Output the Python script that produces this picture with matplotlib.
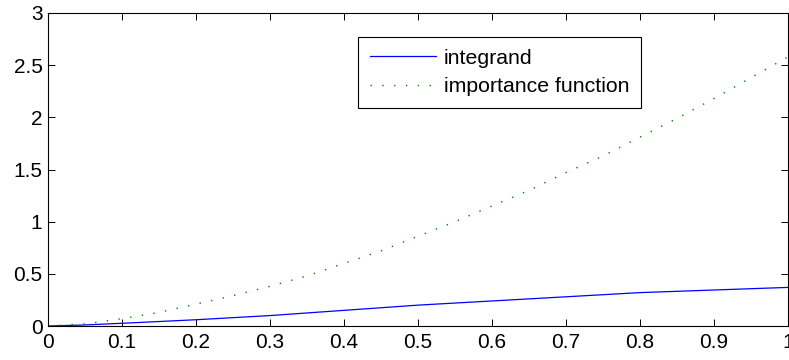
import matplotlib
matplotlib.use("Agg")
import matplotlib.pyplot as plt

# sampled curves
x_integrand = [0.0, 0.05, 0.1, 0.2, 0.3, 0.4, 0.5, 0.6, 0.7, 0.8, 0.9, 1.0]
integrand = [0.0, 0.01, 0.026, 0.06, 0.10, 0.15, 0.20, 0.24, 0.28, 0.32, 0.345, 0.37]

x_importance = [0.0, 0.05, 0.1, 0.15, 0.2, 0.25, 0.3, 0.35, 0.4, 0.45, 0.5,
                0.55, 0.6, 0.65, 0.7, 0.75, 0.8, 0.85, 0.9, 0.95, 1.0]
importance = [0.0, 0.02, 0.07, 0.13, 0.21, 0.29, 0.38, 0.48, 0.60, 0.72, 0.86,
              1.0, 1.15, 1.30, 1.47, 1.63, 1.81, 1.99, 2.18, 2.38, 2.58]

xticks = [0, 0.1, 0.2, 0.3, 0.4, 0.5, 0.6, 0.7, 0.8, 0.9, 1]
yticks = [0, 0.5, 1, 1.5, 2, 2.5, 3]

plt.rcParams["font.family"] = ["Liberation Sans", "DejaVu Sans"]

fig = plt.figure(figsize=(7.89, 3.6), dpi=100)
ax = fig.add_axes([48 / 789, 34 / 360, 740 / 789, 313 / 360])

ax.plot(x_integrand, integrand, color="#0000ff", linewidth=0.9, label="integrand")
ax.plot(x_importance, importance, color="#008000", linewidth=1.0,
        linestyle=(0, (1, 7.5)), label="importance function")

ax.set_xlim(0, 1)
ax.set_ylim(0, 3)
ax.set_xticks(xticks)
ax.set_xticklabels([f"{t:g}" for t in xticks])
ax.set_yticks(yticks)
ax.set_yticklabels([f"{t:g}" for t in yticks])

ax.tick_params(direction="in", length=5, width=0.7, labelsize=15,
               top=True, right=True, colors="black")
ax.tick_params(axis="x", pad=5)
ax.tick_params(axis="y", pad=4)
for sp in ax.spines.values():
    sp.set_linewidth(0.8)
    sp.set_color("black")

leg = ax.legend(loc="upper left", bbox_to_anchor=((358 - 48) / 740, (326 - 37) / 313),
                borderaxespad=0, fontsize=15.3, fancybox=False, framealpha=1,
                edgecolor="black", handlelength=3.1, handletextpad=0.4,
                labelspacing=0.45, borderpad=0.55)
leg.get_frame().set_linewidth(0.8)

fig.savefig("out.png", dpi=100)
